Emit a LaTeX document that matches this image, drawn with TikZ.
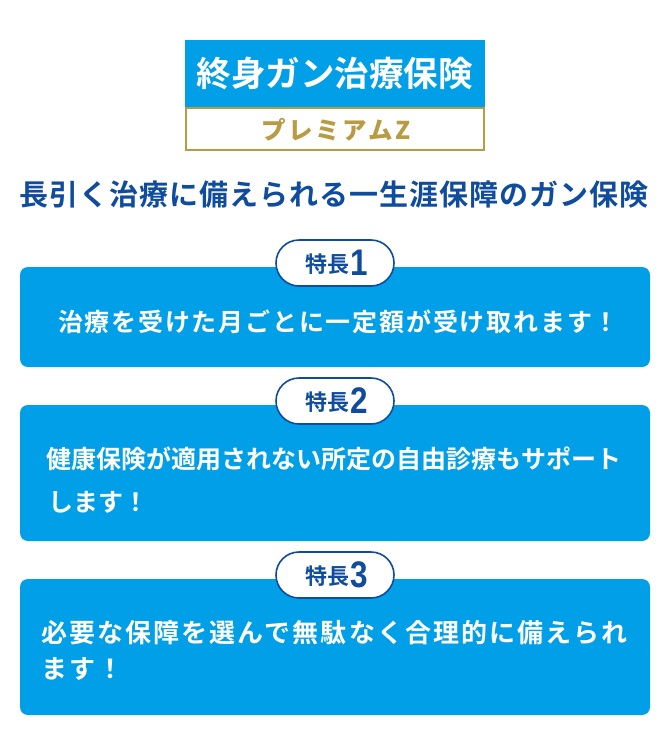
\documentclass[tikz,border=0pt]{standalone}
\usepackage{fontspec}
\newfontfamily\jpb{Noto Sans CJK JP Bold}
\newfontfamily\jpm{Noto Sans CJK JP Bold}
\newfontfamily\jpsp{Noto Sans CJK JP Bold}[LetterSpace=7.2]
\newfontfamily\jpflat{Noto Sans CJK JP Bold}
\newfontfamily\jpwide{Noto Sans CJK JP Bold}[LetterSpace=8.1]
\newfontfamily\jpsub{Noto Sans CJK JP Bold}[LetterSpace=3.3]
\newfontfamily\jpgold{Noto Sans CJK JP Black}[LetterSpace=11.3]
\newfontfamily\numf{Liberation Sans Bold}
\definecolor{sky}{HTML}{009FE8}
\definecolor{navy}{HTML}{0F4C9E}
\definecolor{gold}{HTML}{B99B44}
\tikzset{
 card/.style={fill=sky,rounded corners=8pt,draw=none},
 pill/.style={draw=navy,line width=1.6pt,fill=white,rounded corners=23pt},
 cardtxt/.style={text=white,anchor=center,inner sep=0pt,font=\fontsize{25}{25}\jpsp},
 flattxt/.style={text=white,anchor=center,inner sep=0pt,font=\fontsize{25}{25}\jpflat},
 widetxt/.style={text=white,anchor=center,inner sep=0pt,font=\fontsize{26}{26}\jpwide},
 tag/.style={text=navy,anchor=center,inner sep=0pt,font=\fontsize{22}{22}\jpb},
 tagnum/.style={text=navy,anchor=center,inner sep=0pt,xscale=0.85,font=\fontsize{37}{37}\numf},
}
\begin{document}
\begin{tikzpicture}[x=1pt,y=-1pt]
\useasboundingbox (0,0) rectangle (670,755);
\path[fill=white] (0,0) rectangle (670,755);
% header
\path[fill=sky] (185,40) rectangle (485,107);
\path[draw=gold,line width=2pt,fill=white] (186,108) rectangle (484,150);
\node[text=white,inner sep=0pt,font=\fontsize{34.5}{34.5}\jpm] (title) at (334.5,74) {終身ガン治療保険};
\node[text=gold,inner sep=0pt,font=\fontsize{24.5}{24.5}\jpgold] (sub) at (336,129.5) {プレミアムZ};
\node[text=navy,inner sep=0pt,font=\fontsize{29}{29}\jpsub] (lead) at (334,195) {長引く治療に備えられる一生涯保障のガン保険};
% cards
\path[card] (20,267) rectangle (650,367);
\path[card] (20,405) rectangle (650,541);
\path[card] (20,579) rectangle (650,715);
% pills
\path[pill] (276,240) rectangle (394,286);
\path[pill] (276,378) rectangle (394,424);
\path[pill] (276,552) rectangle (394,598);
\node[tag] (t1) at (327.5,264.5) {特長};
\node[tagnum] (n1) at (359.5,263) {1};
\node[tag] (t2) at (327.5,402.5) {特長};
\node[tagnum] (n2) at (359.5,401) {2};
\node[tag] (t3) at (327.5,576.5) {特長};
\node[tagnum] (n3) at (359.5,575) {3};
% card text
\node[cardtxt] (c1) at (338.5,322) {治療を受けた月ごとに一定額が受け取れます！};
\node[flattxt,anchor=west] (c2a) at (46.5,459) {健康保険が適用されない所定の自由診療もサポート};
\node[flattxt,anchor=west] (c2b) at (48,502) {します！};
\node[widetxt,anchor=west] (c3a) at (41,633) {必要な保障を選んで無駄なく合理的に備えられ};
\node[widetxt,anchor=west] (c3b) at (41,669) {ます！};
\end{tikzpicture}
\end{document}
